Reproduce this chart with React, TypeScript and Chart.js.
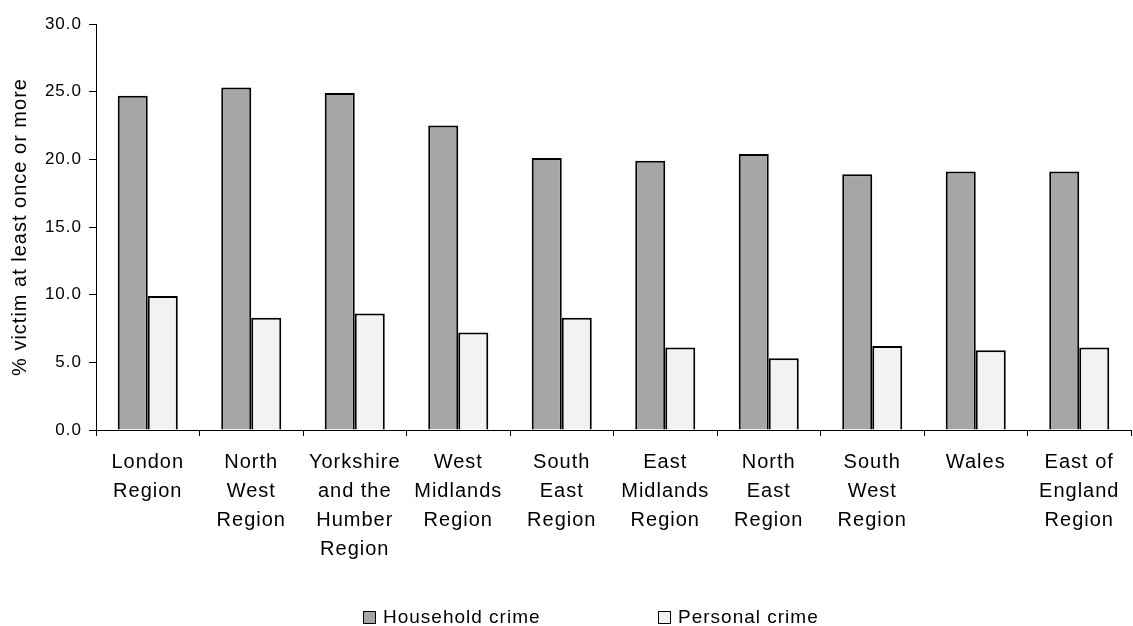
import React, { useEffect, useRef } from "react";
import { Chart, registerables } from "chart.js";

Chart.register(...registerables);

// Regions (multi-line category labels)
const regionLabels: string[][] = [
  ["London", "Region"],
  ["North", "West", "Region"],
  ["Yorkshire", "and the", "Humber", "Region"],
  ["West", "Midlands", "Region"],
  ["South", "East", "Region"],
  ["East", "Midlands", "Region"],
  ["North", "East", "Region"],
  ["South", "West", "Region"],
  ["Wales"],
  ["East of", "England", "Region"],
];

// % victim at least once or more
const householdCrime = [24.7, 25.3, 24.9, 22.5, 20.1, 19.9, 20.4, 18.9, 19.1, 19.1];
const personalCrime = [9.9, 8.3, 8.6, 7.2, 8.3, 6.1, 5.3, 6.2, 5.9, 6.1];

const seriesNames = ["Household crime", "Personal crime"];
const seriesColors = ["#a6a6a6", "#f2f2f2"];

const yAxisTitle = "% victim at least once or more";
const yMin = 0;
const yMax = 30;
const yStep = 5;

const FONT_FAMILY = "'Liberation Sans', Arial, Helvetica, sans-serif";

// Slightly loose tracking for all chart text
const letterSpacing = {
  id: "letterSpacing",
  beforeLayout(chart: any) {
    (chart.ctx as any).letterSpacing = "1px";
  },
  beforeDraw(chart: any) {
    (chart.ctx as any).letterSpacing = "1px";
  },
};

// Legend drawn along the bottom edge, items spread wide apart
const bottomLegend = {
  id: "bottomLegend",
  afterDraw(chart: any) {
    const ctx = chart.ctx as CanvasRenderingContext2D;
    const { chartArea } = chart;
    const mid = (chartArea.left + chartArea.right) / 2;
    const itemOffsets = [-251, 44];
    const y = chart.height - 9;
    const box = 12;
    chart.data.datasets.forEach((ds: any, i: number) => {
      const x = Math.round(mid + itemOffsets[i]);
      ctx.save();
      ctx.fillStyle = ds.backgroundColor;
      ctx.fillRect(x, y - box / 2, box, box);
      ctx.strokeStyle = "#000";
      ctx.lineWidth = 1;
      ctx.strokeRect(x + 0.5, y - box / 2 + 0.5, box, box);
      ctx.fillStyle = "#000";
      ctx.font = `19px ${FONT_FAMILY}`;
      ctx.textBaseline = "middle";
      ctx.textAlign = "left";
      ctx.fillText(ds.label, x + box + 8, y + 1);
      ctx.restore();
    });
  },
};

export default function App() {
  const canvasRef = useRef<HTMLCanvasElement | null>(null);

  useEffect(() => {
    document.body.style.margin = "0";
    const canvas = canvasRef.current;
    if (!canvas) return;

    const chart = new Chart(canvas, {
      type: "bar",
      data: {
        labels: regionLabels,
        datasets: [
          {
            label: seriesNames[0],
            data: householdCrime,
            backgroundColor: seriesColors[0],
            borderColor: "#000",
            borderWidth: 2,
          },
          {
            label: seriesNames[1],
            data: personalCrime,
            backgroundColor: seriesColors[1],
            borderColor: "#000",
            borderWidth: 2,
          },
        ],
      },
      options: {
        responsive: false,
        animation: false,
        datasets: {
          bar: {
            categoryPercentage: 0.58,
            barPercentage: 1.0,
          },
        },
        layout: {
          padding: { top: 24, right: 2, bottom: 60, left: 0 },
        },
        plugins: {
          legend: { display: false },
          tooltip: { enabled: false },
        },
        scales: {
          x: {
            grid: {
              display: true,
              drawOnChartArea: false,
              tickLength: 6,
              color: "#000",
              offset: true,
            },
            border: { display: true, color: "#000", width: 1 },
            ticks: {
              color: "#000",
              padding: 12,
              maxRotation: 0,
              autoSkip: false,
              font: { family: FONT_FAMILY, size: 20, lineHeight: 1.45 },
            },
            afterFit(scale: any) {
              scale.height = 136;
            },
          },
          y: {
            min: yMin,
            max: yMax,
            grid: {
              display: true,
              drawOnChartArea: false,
              tickLength: 7,
              color: "#000",
            },
            border: { display: true, color: "#000", width: 1 },
            ticks: {
              stepSize: yStep,
              color: "#000",
              padding: 7,
              font: { family: FONT_FAMILY, size: 17 },
              callback: (v: any) => Number(v).toFixed(1),
            },
            title: {
              display: true,
              text: yAxisTitle,
              color: "#000",
              padding: 0,
              font: { family: FONT_FAMILY, size: 20, lineHeight: 2 },
            },
            afterFit(scale: any) {
              scale.width = 96;
            },
          },
        },
      },
      plugins: [letterSpacing, bottomLegend],
    });

    return () => chart.destroy();
  }, []);

  return (
    <div style={{ position: "absolute", left: 0, top: 0, width: 1133, height: 626, background: "#fff" }}>
      <canvas ref={canvasRef} width={1133} height={626} />
    </div>
  );
}
